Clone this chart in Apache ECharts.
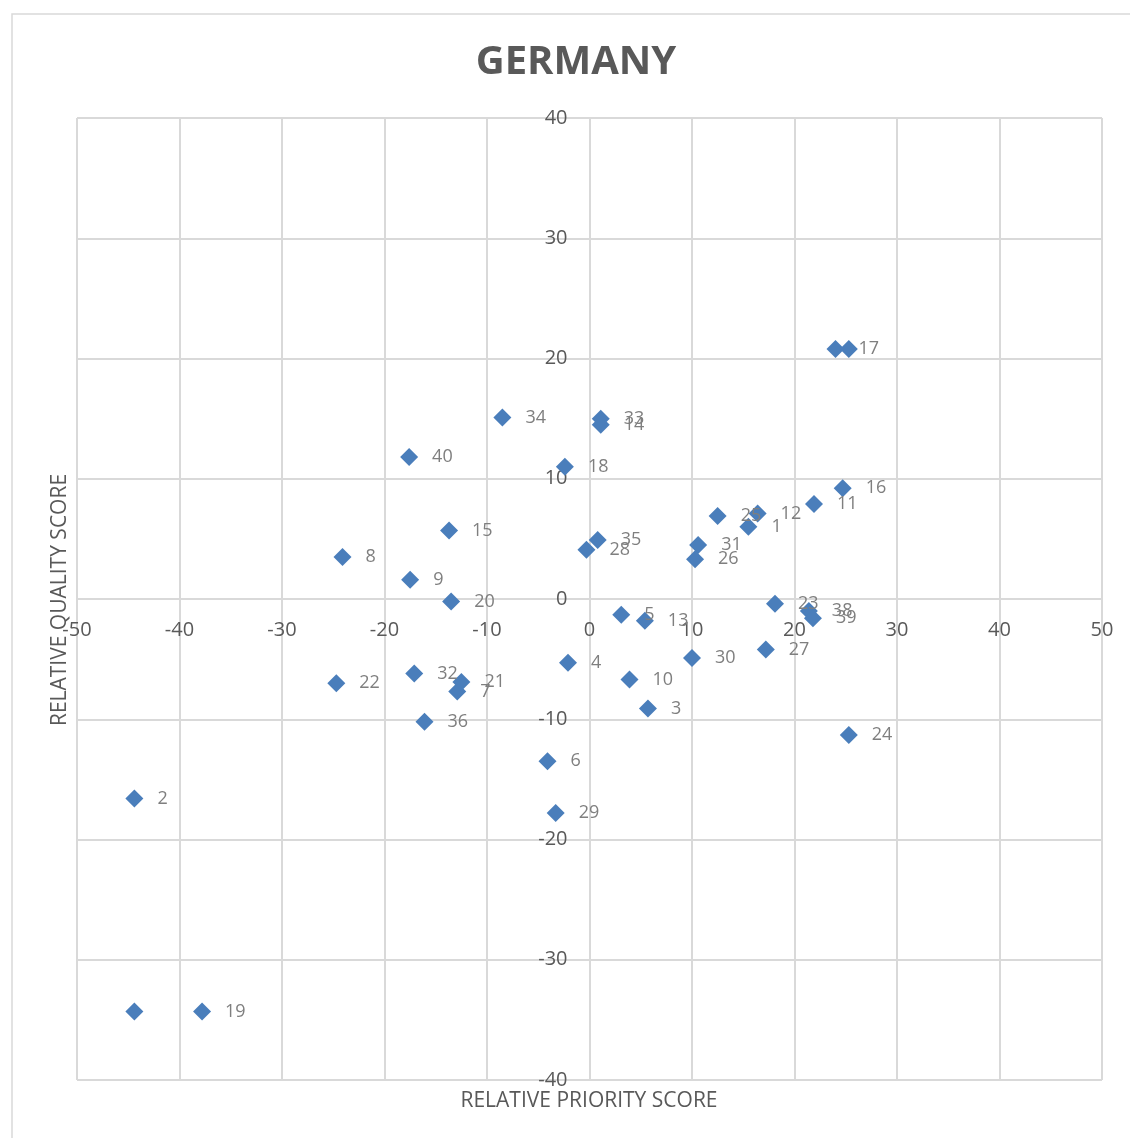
<!DOCTYPE html>
<html>
<head>
<meta charset="utf-8">
<script src="https://cdn.jsdelivr.net/npm/echarts@6/dist/echarts.min.js"></script>
<style>
  html, body { margin: 0; padding: 0; background: #fff; }
  #chart { width: 1130px; height: 1138px; }
</style>
</head>
<body>
<div id="chart"></div>
<script>
// Germany: relative priority vs. relative quality per item
const pointLabels = ['1','2','3','4','5','6','7','8','9','10',
  '11','12','13','14','15','16','','17','18','19',
  '','20','21','22','23','24','25','26','27','28',
  '29','30','31','32','33','34','35','36','38','39','40'];
const priorityScores = [15.5,-44.4,5.7,-2.1,3.1,-4.1,-12.9,-24.1,-17.5,3.9,
  21.9,16.4,5.4,1.1,-13.7,24.7,25.3,24.0,-2.4,-37.8,
  -44.4,-13.5,-12.5,-24.7,18.1,25.3,12.5,10.3,17.2,-0.3,
  -3.3,10.0,10.6,-17.1,1.1,-8.5,0.8,-16.1,21.4,21.8,-17.6];
const qualityScores = [6.0,-16.6,-9.1,-5.3,-1.3,-13.5,-7.7,3.5,1.6,-6.7,
  7.9,7.1,-1.8,14.5,5.7,9.2,20.8,20.8,11.0,-34.3,
  -34.3,-0.2,-6.9,-7.0,-0.4,-11.3,6.9,3.3,-4.2,4.1,
  -17.8,-4.9,4.5,-6.2,15.0,15.1,4.9,-10.2,-1.0,-1.6,11.8];
const xTicks = { min: -50, max: 50, step: 10 };
const yTicks = { min: -40, max: 40, step: 10 };

const points = priorityScores.map((x, i) => ({ value: [x, qualityScores[i]], name: pointLabels[i] }));

// plot box and the pixel shift that puts each axis (line + labels) on the other's zero
const W = 1130, H = 1138;
const box = { left: 77, right: 28, top: 118, bottom: 58 };
const plotW = W - box.left - box.right;
const plotH = H - box.top - box.bottom;
const xAxisShift = -plotH * (0 - yTicks.min) / (yTicks.max - yTicks.min);
const yAxisShift = -plotW * (0 - xTicks.min) / (xTicks.max - xTicks.min);

const gridColor = '#d9d9d9';
const chart = echarts.init(document.getElementById('chart'), null, { renderer: 'canvas' });
chart.setOption({
  backgroundColor: '#fff',
  animation: false,
  textStyle: { fontFamily: 'Open Sans' },
  grid: Object.assign({ show: false }, box),
  xAxis: {
    type: 'value', min: xTicks.min, max: xTicks.max, interval: xTicks.step,
    position: 'bottom', offset: xAxisShift,
    axisLine: { show: true, onZero: false, lineStyle: { color: gridColor, width: 2 } },
    axisTick: { show: false },
    axisLabel: { fontSize: 20, color: '#595959', margin: 21, fontFamily: 'Open Sans' },
    splitLine: { show: true, lineStyle: { color: gridColor, width: 2 } }
  },
  yAxis: {
    type: 'value', min: yTicks.min, max: yTicks.max, interval: yTicks.step,
    position: 'left', offset: yAxisShift,
    axisLine: { show: true, onZero: false, lineStyle: { color: gridColor, width: 2 } },
    axisTick: { show: false },
    axisLabel: { fontSize: 20, color: '#595959', margin: 22, fontFamily: 'Open Sans' },
    splitLine: { show: true, lineStyle: { color: gridColor, width: 2 } }
  },
  graphic: [
    { type: 'rect', silent: true, z: -10,
      shape: { x: 12, y: 14, width: 1140, height: 1140 },
      style: { fill: 'none', stroke: '#d9d9d9', lineWidth: 1.5 } },
    { type: 'text', x: 576, y: 63,
      style: { text: 'GERMANY', fontFamily: 'Open Sans', fontWeight: 'bold', fontSize: 40,
        fill: '#595959', align: 'center', verticalAlign: 'middle' } },
    { type: 'text', x: 589, y: 1101,
      style: { text: 'RELATIVE PRIORITY SCORE', fontFamily: 'Open Sans', fontSize: 21,
        fill: '#595959', align: 'center', verticalAlign: 'middle' } },
    { type: 'text', x: 60, y: 600, rotation: Math.PI / 2,
      style: { text: 'RELATIVE QUALITY SCORE', fontFamily: 'Open Sans', fontSize: 21,
        fill: '#595959', align: 'center', verticalAlign: 'middle' } }
  ],
  series: [{
    type: 'scatter',
    symbol: 'diamond',
    symbolSize: 18,
    itemStyle: { color: '#4a7ebb', opacity: 1 },
    data: points,
    label: {
      show: true, position: 'right', distance: 14,
      formatter: p => p.name,
      fontSize: 18, color: '#7f7f7f', fontFamily: 'Open Sans'
    }
  }]
});
</script>
</body>
</html>
